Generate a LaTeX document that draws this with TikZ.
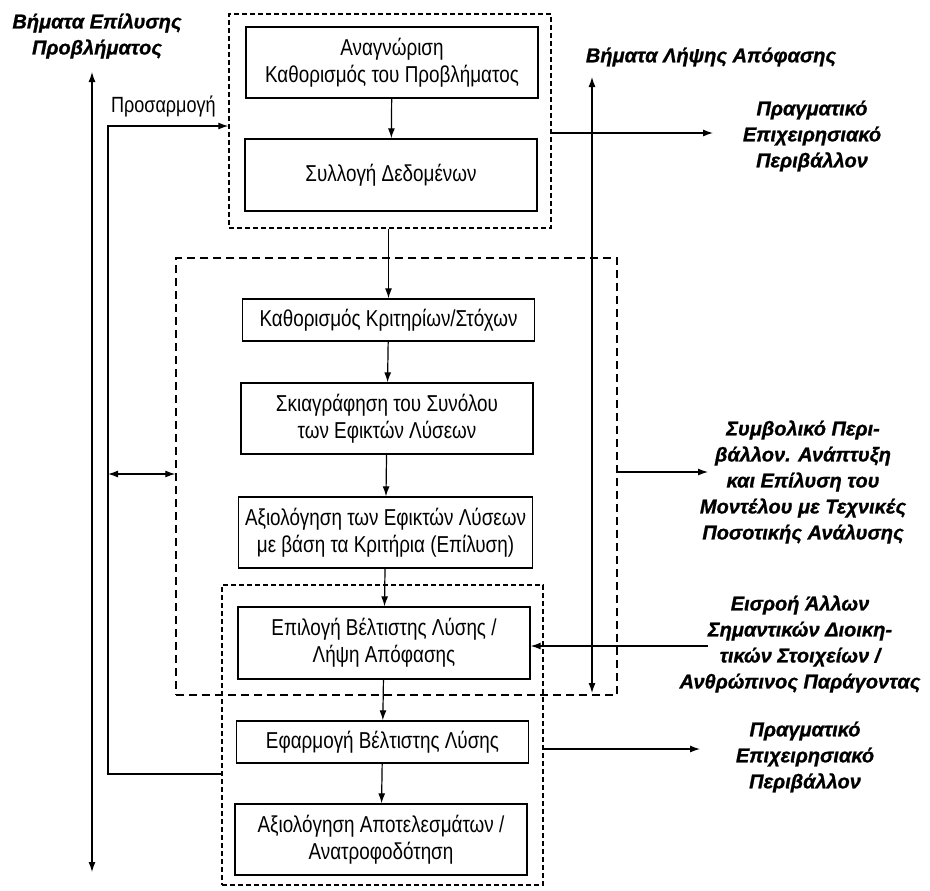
\documentclass[tikz,border=0pt]{standalone}
\usepackage{fontspec}
\setmainfont{Liberation Sans}[FakeStretch=0.82]
\newfontfamily\headfont{Liberation Sans}[BoldItalicFeatures={FakeBold=1}]
\usetikzlibrary{arrows.meta,positioning}

\begin{document}
\begin{tikzpicture}[x=0.5pt,y=-0.5pt,
  stagebox/.style={draw,line width=0.7pt,minimum width=146pt,align=center,
    font=\fontsize{11.5}{13.5}\selectfont},
  groupbox/.style={draw,line width=0.7pt,dash pattern=on 2.5pt off 1.5pt},
  envlabel/.style={align=center,font=\headfont\bfseries\itshape\fontsize{10}{13}\selectfont},
  arr/.style={line width=0.6pt,-{Latex[length=5pt,width=3.5pt]}},
  dblarr/.style={line width=0.6pt,{Latex[length=5pt,width=3.5pt]}-{Latex[length=5pt,width=3.5pt]}}
]
\useasboundingbox (0,0) rectangle (930,890);

\node[groupbox,minimum width=161pt,minimum height=107pt] (grp1) at (390,121) {};
\node[groupbox,dash pattern=on 4pt off 2.5pt,minimum width=220.5pt,minimum height=218.5pt] (grp2) at (396.5,476.5) {};
\node[groupbox,minimum width=160.5pt,minimum height=150pt] (grp3) at (382.5,735) {};

\node[stagebox,minimum height=35.5pt] (recog) at (392,62.5) {Αναγνώριση\\Καθορισμός του Προβλήματος};
\node[stagebox,minimum height=36pt] (data) at (391,175) {Συλλογή Δεδομένων};
\node[stagebox,minimum height=21pt] (crit) at (388.5,320) {Καθορισμός Κριτηρίων/Στόχων};
\node[stagebox,minimum height=35.5pt] (sketch) at (387,418.5) {Σκιαγράφηση του Συνόλου\\των Εφικτών Λύσεων};
\node[stagebox,minimum height=35.5pt] (eval) at (385.5,532.5) {Αξιολόγηση των Εφικτών Λύσεων\\με βάση τα Κριτήρια (Επίλυση)};
\node[stagebox,minimum height=36pt] (choice) at (384,643) {Επιλογή Βέλτιστης Λύσης /\\Λήψη Απόφασης};
\node[stagebox,minimum height=21pt] (apply) at (382.5,742) {Εφαρμογή Βέλτιστης Λύσης};
\node[stagebox,minimum height=35.5pt] (review) at (381,839.5) {Αξιολόγηση Αποτελεσμάτων /\\Ανατροφοδότηση};

\draw[arr] (recog) -- (data);
\draw[arr] (grp1.south -| crit) -- (crit);
\draw[arr] (crit) -- (sketch);
\draw[arr] (sketch) -- (eval);
\draw[arr] (eval) -- (choice);
\draw[arr] (choice) -- (apply);
\draw[arr] (apply) -- (review);

\coordinate (ltop) at (92,72);
\coordinate (lbot) at (92,872);
\coordinate (fbtop) at (108,126);
\coordinate (fbmid) at (108,474);
\coordinate (fbbot) at (108,774);
\draw[dblarr] (ltop) -- (lbot);
\draw[arr] (fbbot -| grp3.west) -- (fbbot) -- (fbtop) -- (fbtop -| grp1.west);
\draw[dblarr] (fbmid) -- (fbmid -| grp2.west);
\node[anchor=west,font=\fontsize{11}{13.5}\selectfont] (adapt) at (104,106) {Προσαρμογή};

\coordinate (rtop) at (592,77);
\coordinate (rbot) at (592,693);
\draw[dblarr] (rtop) -- (rbot);

\coordinate (out1) at (713,133);
\coordinate (out2) at (708,472);
\coordinate (out3) at (700,749);
\coordinate (in1) at (708,646);
\draw[arr] (out1 -| grp1.east) -- (out1);
\draw[arr] (out2 -| grp2.east) -- (out2);
\draw[arr] (out3 -| grp3.east) -- (out3);
\draw[arr] (in1) -- (in1 -| choice.east);

\node[envlabel] (head1) at (97,36) {Βήματα Επίλυσης\\Προβλήματος};
\node[envlabel] (head2) at (711,57) {Βήματα Λήψης Απόφασης};
\node[envlabel] (real1) at (812,136) {Πραγματικό\\Επιχειρησιακό\\Περιβάλλον};
\node[envlabel] (symb) at (803,482) {Συμβολικό Περι-\\βάλλον. Ανάπτυξη\\και Επίλυση του\\Μοντέλου με Τεχνικές\\Ποσοτικής Ανάλυσης};
\node[envlabel] (input) at (800,644) {Εισροή Άλλων\\Σημαντικών Διοικη-\\τικών Στοιχείων /\\Ανθρώπινος Παράγοντας};
\node[envlabel] (real2) at (805,757) {Πραγματικό\\Επιχειρησιακό\\Περιβάλλον};
\end{tikzpicture}
\end{document}
